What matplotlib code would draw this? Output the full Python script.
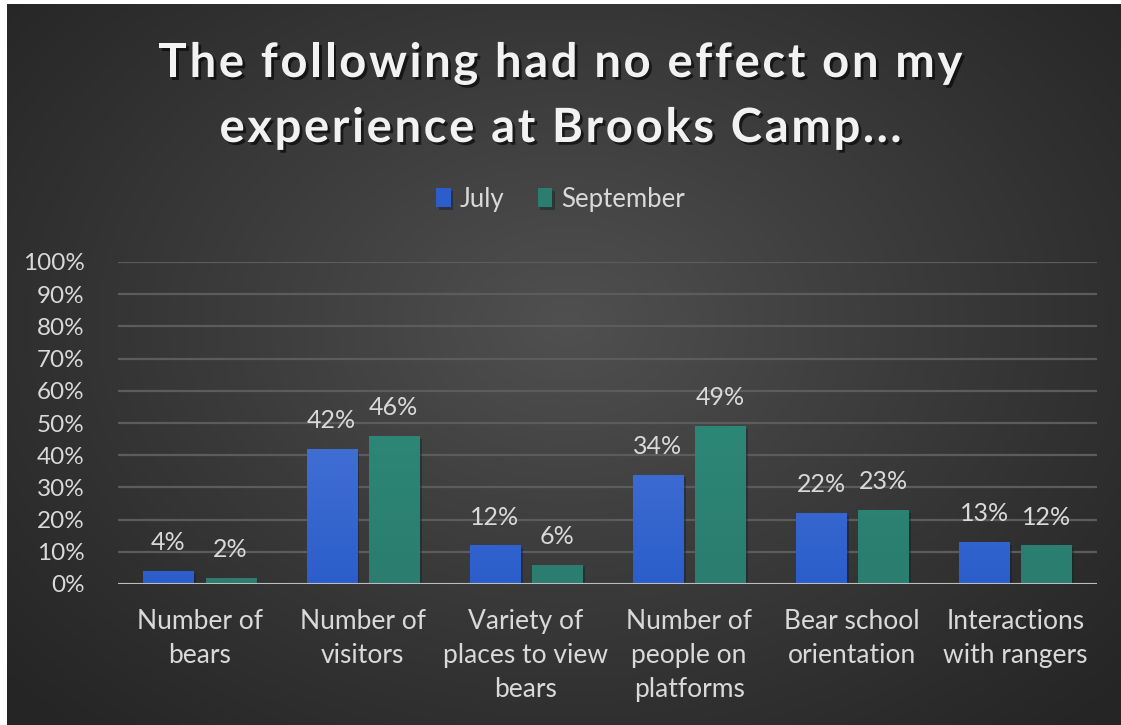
import numpy as np
import matplotlib.pyplot as plt
import matplotlib.patheffects as pe
from matplotlib.colors import LinearSegmentedColormap

# Survey results: share answering "no effect"
categories = ['Number of\nbears', 'Number of\nvisitors', 'Variety of\nplaces to view\nbears',
              'Number of\npeople on\nplatforms', 'Bear school\norientation', 'Interactions\nwith rangers']
july = [4, 42, 12, 34, 22, 13]
september = [2, 46, 6, 49, 23, 12]
series_names = ['July', 'September']
yticks = [0, 10, 20, 30, 40, 50, 60, 70, 80, 90, 100]
title_lines = ['The following had no effect on my', 'experience at Brooks Camp...']

plt.rcParams['font.family'] = ['Lato', 'DejaVu Sans']
txt = '#d9d9d9'

fig = plt.figure(figsize=(11.21, 7.25), dpi=100)
fig.patch.set_facecolor('white')
W, H = 1121, 725

# dark radial background (thin white margin at left/top)
bg = fig.add_axes([7 / W, 0, 1 - 7 / W, 1 - 4 / H])
yy, xx = np.mgrid[0:H, 0:W - 7]
r = np.sqrt(((xx - 560) / 760.0) ** 2 + ((yy - 320) / 560.0) ** 2)
shade = np.clip(1 - r, 0, 1) ** 1.1
bgcmap = LinearSegmentedColormap.from_list('bg', ['#252525', '#505050'])
bg.imshow(shade, cmap=bgcmap, aspect='auto', vmin=0, vmax=1, interpolation='bilinear')
bg.set_axis_off()

ax = fig.add_axes([118 / W, 1 - 584 / H, (1097 - 118) / W, (584 - 262) / H])
ax.set_facecolor('none')

x = np.arange(len(categories))
w = 0.307
gap = 0.074
grads = [('#5d86de', '#2b5ecb'), ('#30917f', '#2a7d6f')]
for k, vals in enumerate([july, september]):
    pos = x + (k - 0.5) * (w + gap)
    bars = ax.bar(pos, vals, width=w, color=grads[k][1], zorder=3, label=series_names[k],
                  path_effects=[pe.SimplePatchShadow(offset=(2, -2), alpha=0.45), pe.Normal()])
    cm = LinearSegmentedColormap.from_list('g%d' % k, [grads[k][1], grads[k][0]])
    grad = np.linspace(0, 1, 256).reshape(-1, 1)
    for b, v in zip(bars, vals):
        im = ax.imshow(grad, cmap=cm, origin='lower', aspect='auto', zorder=4,
                       extent=(b.get_x(), b.get_x() + w, 0, 100), vmin=0, vmax=1)
        im.set_clip_path(b)
        ax.annotate('%d%%' % v, (b.get_x() + w / 2, v), xytext=(0, 15),
                    textcoords='offset points', ha='center', va='baseline',
                    fontsize=18, color=txt)

ax.set_xlim(-0.5, len(categories) - 0.5)
ax.set_ylim(0, 100)
ax.set_yticks(yticks)
ax.set_yticklabels(['%d%%' % t for t in yticks], fontsize=17.5, color=txt)
ax.set_xticks(x)
ax.set_xticklabels(categories, fontsize=19, color=txt, linespacing=1.45)
ax.tick_params(length=0, pad=18)
ax.tick_params(axis='y', pad=24)
ax.grid(axis='y', color='#5c5c5c', linewidth=1.6, zorder=0)
for s in ax.spines.values():
    s.set_visible(False)
ax.axhline(0, color='#bdbdbd', linewidth=2.2, zorder=5)


def spaced_text(s, yc, extra, **kw):
    # draw a centred line char by char with extra tracking (pixels)
    rend = fig.canvas.get_renderer()
    probe = fig.text(0, 0, '', **kw)
    offs = []
    for i in range(len(s) + 1):
        probe.set_text(s[:i] if i else '')
        offs.append(probe.get_window_extent(rend).width if i else 0.0)
    probe.remove()
    total = offs[-1] + extra * (len(s) - 1)
    x0 = W / 2 - total / 2
    for i, ch in enumerate(s):
        if ch == ' ':
            continue
        fig.text((x0 + offs[i] + extra * i) / W, 1 - yc / H, ch, ha='left', va='center', **kw)


shadow = [pe.withSimplePatchShadow(offset=(2, -2), shadow_rgbFace='black', alpha=0.6)]
tkw = dict(fontsize=34, fontweight='bold', color='#f2f2f2', path_effects=shadow)
spaced_text(title_lines[0], 63, 2.6, **tkw)
spaced_text(title_lines[1], 128, 2.6, **tkw)

leg = fig.legend(loc='center', bbox_to_anchor=(0.5, 1 - 199 / H), ncol=2, frameon=False,
                 fontsize=18.5, handlelength=0.55, handleheight=0.8, handletextpad=0.35,
                 columnspacing=1.3)
for t in leg.get_texts():
    t.set_color(txt)

fig.savefig('out.png', dpi=100)
